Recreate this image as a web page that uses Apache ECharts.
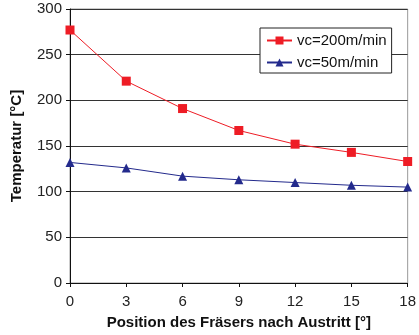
<!DOCTYPE html>
<html>
<head>
<meta charset="utf-8">
<script src="https://cdn.jsdelivr.net/npm/echarts@6/dist/echarts.min.js"></script>
<style>
  html, body { margin: 0; padding: 0; background: #fff; }
  #chart { width: 419px; height: 335px; }
</style>
</head>
<body>
<div id="chart"></div>
<script>
// Cutter position after exit (degrees)
const positions = [0, 3, 6, 9, 12, 15, 18];
// Temperature for each cutting speed
const temp200 = [277, 221, 191, 167, 152, 143, 133];
const temp50 = [132, 126, 117, 113, 110, 107, 105];
const seriesNames = ['vc=200m/min', 'vc=50m/min'];

const font = 'Liberation Sans, Arial, sans-serif';

const chart = echarts.init(document.getElementById('chart'), null, { renderer: 'canvas' });

chart.setOption({
  animation: false,
  backgroundColor: '#fff',
  grid: { left: 70, right: 9, top: 9, bottom: 52, containLabel: false,
          show: true, borderColor: '#9a9a9a', borderWidth: 1 },
  legend: {
    top: 28, left: 260,
    orient: 'vertical',
    itemGap: 7,
    itemWidth: 25, itemHeight: 10,
    padding: [5, 5, 3, 6],
    backgroundColor: '#fff',
    borderColor: '#222',
    borderWidth: 1,
    textStyle: { fontFamily: font, fontSize: 15, color: '#111' },
    data: seriesNames
  },
  xAxis: {
    type: 'value',
    min: 0, max: 18, interval: 3,
    name: 'Position des Fräsers nach Austritt [°]',
    nameLocation: 'middle',
    nameGap: 32,
    nameTextStyle: { fontFamily: font, fontSize: 15, fontWeight: 'bold', color: '#111' },
    axisLine: { onZero: false, lineStyle: { color: '#111', width: 1 } },
    axisTick: { show: true, length: 4, lineStyle: { color: '#111' } },
    axisLabel: { fontFamily: font, fontSize: 15, color: '#222', margin: 11 },
    splitLine: { show: false }
  },
  yAxis: {
    type: 'value',
    min: 0, max: 300, interval: 50,
    name: 'Temperatur [°C]',
    nameLocation: 'middle',
    nameGap: 46,
    nameTextStyle: { fontFamily: font, fontSize: 15, fontWeight: 'bold', color: '#111' },
    axisLine: { show: true, lineStyle: { color: '#111', width: 1 } },
    axisTick: { show: true, length: 4, lineStyle: { color: '#111' } },
    axisLabel: { fontFamily: font, fontSize: 15, color: '#222', margin: 8 },
    splitLine: { show: true, lineStyle: { color: '#333', width: 1 } }
  },
  series: [
    {
      name: seriesNames[0],
      type: 'line',
      data: positions.map((p, i) => [p, temp200[i]]),
      symbol: 'rect',
      symbolSize: 9,
      lineStyle: { color: '#ee1c25', width: 1 },
      itemStyle: { color: '#ee1c25' }
    },
    {
      name: seriesNames[1],
      type: 'line',
      data: positions.map((p, i) => [p, temp50[i]]),
      symbol: 'triangle',
      symbolSize: 9,
      lineStyle: { color: '#232a8c', width: 1 },
      itemStyle: { color: '#232a8c' }
    }
  ]
});
</script>
</body>
</html>
